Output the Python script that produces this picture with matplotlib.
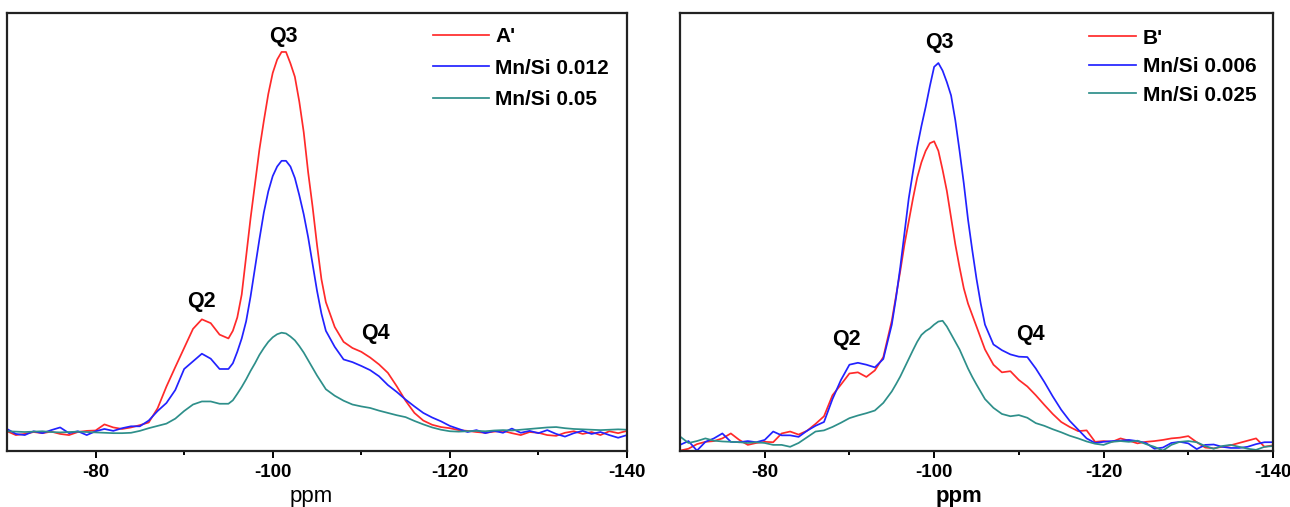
import numpy as np
import matplotlib
matplotlib.use("Agg")
import matplotlib.pyplot as plt

plt.rcParams['font.family'] = ['Liberation Sans', 'DejaVu Sans']
plt.rcParams['axes.unicode_minus'] = False

# chemical shift grid (ppm): 1 ppm steps, 0.5 ppm steps across the Q3 peak
ppm = np.concatenate([np.arange(-70, -95.5, -1),
                      np.arange(-95.5, -106, -0.5),
                      np.arange(-106, -141, -1)])

# ---- panel A (intensity, a.u.) ----
a_labels = ["A'", "Mn/Si 0.012", "Mn/Si 0.05"]
a_ref = [0.2, -0.8, -0.5, 0.0, -0.3, 0.1, -0.5, -0.8, 0.0, 0.3,
         0.4, 2.0, 1.2, 0.8, 1.2, 1.8, 2.5, 6.2, 11.9, 17.0,
         22.0, 27.0, 29.5, 28.5, 25.5, 24.5,
         26.5, 30, 36, 46, 56, 65, 74, 81.5, 88.5, 94, 97.5,
         99.5, 99.5, 96.5, 93, 86.5, 78.5, 68, 59, 49, 40,
         34.0, 27.5, 23.6, 22.0, 21.0, 19.5, 17.7, 15.5, 12.0, 8.2,
         5.0, 3.0, 1.9, 1.3, 1.0, 0.5, 0.3, 0.0, -0.2, 0.1,
         0.3, -0.3, -0.8, 0.0, -0.2, -0.8, -1.0, -0.2, 0.2, -0.5,
         0.0, -0.8, 0.2, -0.3, 0.3]
a_mn012 = [0.8, -0.5, -0.8, 0.2, -0.3, 0.5, 1.2, -0.3, 0.2, -0.8,
           0.2, 0.8, 0.3, 1.0, 1.5, 1.5, 3.0, 5.5, 7.6, 11.0,
           16.5, 18.5, 20.5, 19.2, 16.5, 16.5,
           18, 21, 24.5, 29, 35.5, 43, 50.5, 57.5, 63, 67, 69.5,
           71, 71, 69.5, 66.5, 62, 57, 51, 44, 37, 31,
           26.5, 22.3, 19.0, 18.3, 17.3, 16.2, 14.6, 12.3, 10.5, 8.5,
           6.7, 5.0, 3.8, 2.8, 1.6, 0.8, 0.0, 0.5, -0.3, 0.3,
           -0.2, 0.9, -0.2, 0.3, -0.3, 0.5, -0.5, -1.2, -0.3, 0.3,
           -0.5, 0.0, -0.8, -1.5, -0.8]
a_mn05 = [0.2, 0.1, 0.0, 0.1, 0.2, 0.0, -0.1, 0.0, 0.1, 0.0,
          -0.1, -0.2, -0.3, -0.3, -0.2, 0.3, 1.0, 1.6, 2.2, 3.5,
          5.5, 7.2, 8.0, 8.0, 7.4, 7.4,
          8.3, 10, 11.8, 13.8, 16, 18, 20.2, 22, 23.6, 24.8, 25.6,
          26, 25.8, 25, 24, 22.5, 20.8, 18.8, 16.8, 14.8, 13,
          11.2, 9.5, 8.2, 7.2, 6.7, 6.3, 5.6, 5.0, 4.4, 3.9,
          2.9, 2.0, 1.2, 0.6, 0.2, 0.1, 0.2, 0.3, 0.2, 0.4,
          0.5, 0.4, 0.6, 0.8, 1.0, 1.2, 1.3, 1.0, 0.8, 0.7,
          0.6, 0.5, 0.6, 0.7, 0.6]

# ---- panel B (intensity, a.u.) ----
b_labels = ["B'", "Mn/Si 0.006", "Mn/Si 0.025"]
b_ref = [-2.0, -1.5, -0.3, 0.3, 0.5, 1.2, 2.5, 0.8, -0.5, 0.0,
         0.3, 0.2, 2.5, 3.0, 2.2, 3.2, 5.0, 7.0, 12.5, 15.3,
         18.2, 18.5, 17.3, 19.0, 22.5, 32.0,
         38.5, 45, 52, 58, 64, 69.5, 73.5, 76.5, 78.5, 79, 76.5,
         71.5, 66, 59, 52, 46, 40.5, 36.5, 33.5, 30.5, 27.5,
         24.5, 20.5, 18.5, 18.8, 16.5, 14.8, 12.5, 10.0, 7.6, 5.5,
         4.2, 3.1, 3.3, 0.3, 0.5, 0.3, 1.2, 0.6, -0.1, 0.3,
         0.5, 0.8, 1.2, 1.4, 1.8, 0.2, -1.2, -1.4, -1.0, -0.6,
         0.0, 0.6, 1.2, -1.0, -0.6]
b_mn006 = [-0.5, 0.5, -2.0, 0.3, 1.2, 2.5, 0.3, 0.2, 0.5, 0.2,
           0.8, 3.0, 2.0, 2.0, 1.6, 3.2, 4.5, 5.5, 11.5, 16.5,
           20.5, 21.0, 20.5, 19.8, 22.0, 31.0,
           38, 46, 55, 64, 71, 77.5, 83, 88, 93.5, 98.5, 99.5,
           97.5, 94.5, 91, 84.5, 76.5, 68, 58.5, 50.5, 43, 36.5,
           31.0, 25.8, 24.3, 23.2, 22.6, 22.5, 19.5, 16.0, 12.2, 8.7,
           5.8, 3.5, 1.2, 0.0, 0.3, 0.5, 0.6, 0.8, 0.5, 0.0,
           -1.5, -1.2, 0.0, 0.3, -0.1, -1.6, -0.5, -0.4, -1.0, -1.3,
           -1.3, -1.0, -0.3, 0.2, 0.2]
b_mn025 = [1.7, 0.0, 0.5, 1.2, 0.6, 0.4, 0.3, 0.2, 0.0, 0.2,
           0.0, -0.5, -0.5, -1.0, 0.0, 1.5, 3.0, 3.3, 4.2, 5.3,
           6.5, 7.2, 7.8, 8.5, 10.5, 13.5,
           15.4, 17.4, 19.7, 22, 24.3, 26.5, 28.3, 29.3, 30, 31, 31.8,
           32, 30.5, 28.5, 26.5, 24.5, 22, 19.5, 17.3, 15.3, 13.4,
           11.5, 9.2, 7.6, 7.0, 7.3, 6.6, 5.2, 4.5, 3.6, 2.8,
           1.9, 1.2, 0.4, -0.2, -0.5, 0.3, 0.5, 0.3, 0.6, -0.3,
           -1.0, -2.0, -0.5, 0.3, 0.5, 0.2, -0.8, -1.5, -0.8, -0.5,
           -1.0, -1.5, -1.8, -1.0, -0.8]

colors = ['#ff2a2a', '#2222ff', '#2e8f8a']


def style_axes(ax, ylim):
    ax.set_xlim(-70, -140)
    ax.set_ylim(*ylim)
    ax.set_yticks([])
    ax.set_xticks([-80, -100, -120, -140])
    ax.set_xticks([-90, -110, -130], minor=True)
    ax.tick_params(axis='x', which='major', direction='out', length=5, width=1.4,
                   pad=4, labelsize=13.5)
    ax.tick_params(axis='x', which='minor', direction='out', length=3, width=1.4)
    for lab in ax.get_xticklabels():
        lab.set_fontweight('bold')
    for sp in ax.spines.values():
        sp.set_linewidth(1.6)
        sp.set_color('#222222')


def draw_panel(ax, series, labels, peaks, ylim, legend_anchor, handlelength,
               labelspacing, xlabel_x, xlabel_weight):
    for y, lab, c in zip(series, labels, colors):
        ax.plot(ppm, y, color=c, lw=1.25, label=lab)
    style_axes(ax, ylim)
    for txt, (px, py) in peaks.items():
        ax.text(px, py, txt, ha='center', va='center', fontsize=15.5, fontweight='bold')
    ax.legend(loc='upper left', bbox_to_anchor=legend_anchor, frameon=False,
              borderaxespad=0, borderpad=0, handlelength=handlelength,
              handletextpad=0.3, labelspacing=labelspacing,
              prop={'weight': 'bold', 'size': 15})
    ax.set_xlabel('ppm', fontsize=16, fontweight=xlabel_weight, va='center')
    ax.xaxis.set_label_coords(xlabel_x, -0.103)


fig = plt.figure(figsize=(12.9, 5.07), dpi=100)
ax1 = fig.add_axes([0.00543, 0.11045, 0.48062, 0.86391])
ax2 = fig.add_axes([0.52713, 0.11045, 0.45969, 0.86391])

draw_panel(ax1, [a_ref, a_mn012, a_mn05], a_labels,
           {'Q3': (-101.2, 103.5), 'Q2': (-91.9, 34.1), 'Q4': (-111.6, 25.8)},
           (-4.97, 109.7), (0.687, 0.968), 2.7, 0.6, 0.491, 'normal')
draw_panel(ax2, [b_ref, b_mn006, b_mn025], b_labels,
           {'Q3': (-100.6, 104.8), 'Q2': (-89.7, 27.0), 'Q4': (-111.4, 28.3)},
           (-2.1, 112.6), (0.689, 0.964), 2.3, 0.45, 0.470, 'bold')

fig.savefig('out.png', dpi=100, facecolor='white')
